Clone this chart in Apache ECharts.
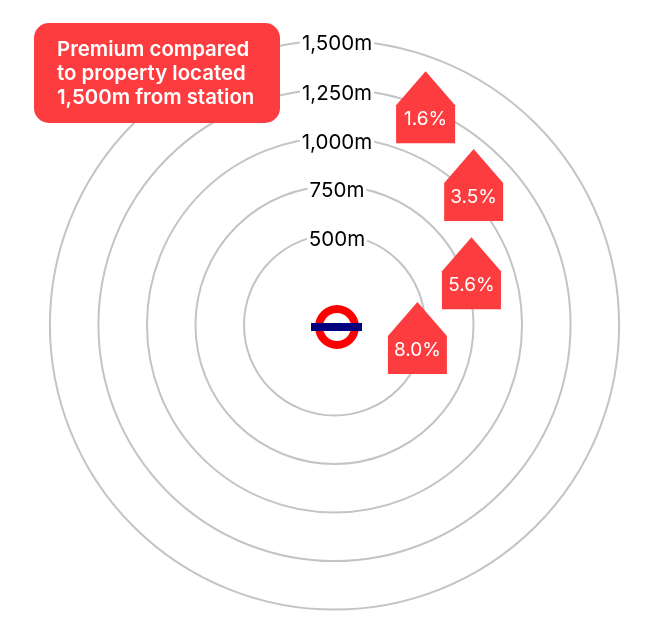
<!DOCTYPE html>
<html>
<head>
<meta charset="utf-8">
<title>Premium by distance from station</title>
<style>
html, body { margin: 0; padding: 0; background: #fff; }
#main { width: 670px; height: 635px; }
</style>
<script src="https://cdn.jsdelivr.net/npm/echarts@6/dist/echarts.min.js"></script>
</head>
<body>
<div id="main"></div>
<script>
var ringDistances = [500, 750, 1000, 1250, 1500];
var ringLabels = ['500m', '750m', '1,000m', '1,250m', '1,500m'];
var premiumLabels = ['1.6%', '3.5%', '5.6%', '8.0%'];
var houseDistances = [1250, 1000, 750, 500];
var houseAngles = [22.7, 44.8, 69.2, 98.9];
var calloutLines = ['Premium compared', 'to property located', '1,500m from station'];

var red = '#FC3C3F';
var font = 'Inter, "Noto Sans", sans-serif';

// houses sit a little off their ring in the original
var houseNudge = [[0, 0], [7, -7], [7, -2.5], [-6.5, -1]];
var ringLabelNudge = [[2.5, 5], [2.5, 5], [2.5, 5], [2.5, 5], [2.5, 3]];

var houseData = premiumLabels.map(function(label, i) {
	return {
		name: label,
		value: [houseDistances[i], houseAngles[i]],
		symbolOffset: houseNudge[i]
	};
});

var ringLabelData = ringLabels.map(function(label, i) {
	return {
		name: label,
		value: [ringDistances[i], 0],
		label: { offset: ringLabelNudge[i] }
	};
});

var option = {
	animation: false,
	backgroundColor: '#fff',
	polar: {
		center: [334.5, 325],
		radius: [90.5, 284.6]
	},
	angleAxis: {
		type: 'value',
		min: 0,
		max: 360,
		startAngle: 90,
		clockwise: true,
		axisLine: { show: false },
		axisTick: { show: false },
		axisLabel: { show: false },
		splitLine: { show: false }
	},
	radiusAxis: {
		type: 'value',
		min: 500,
		max: 1500,
		interval: 250,
		axisLine: { show: false },
		axisTick: { show: false },
		axisLabel: { show: false },
		splitLine: {
			show: true,
			lineStyle: { color: '#C4C4C4', width: 2 }
		}
	},
	series: [{
		name: 'Distance',
		type: 'scatter',
		coordinateSystem: 'polar',
		symbolSize: 1,
		itemStyle: { color: 'transparent', opacity: 1 },
		silent: true,
		z: 3,
		label: {
			show: true,
			position: 'inside',
			color: '#000',
			opacity: 1,
			fontFamily: font,
			fontSize: 20.5,
			backgroundColor: '#fff',
			padding: [2, 2],
			formatter: '{b}'
		},
		data: ringLabelData
	}, {
		name: 'Premium',
		type: 'scatter',
		coordinateSystem: 'polar',
		symbol: 'path://M0 34 L29.5 0 L59 34 L59 72 L0 72 Z',
		symbolSize: [59, 72],
		symbolKeepAspect: false,
		itemStyle: { color: red, opacity: 1 },
		z: 5,
		label: {
			show: true,
			position: 'inside',
			offset: [0, 12],
			color: '#fff',
			opacity: 1,
			fontFamily: font,
			fontSize: 19,
			formatter: '{b}'
		},
		data: houseData
	}],
	graphic: [{
		// station roundel
		type: 'ring',
		z: 10,
		shape: { cx: 337, cy: 327, r: 22, r0: 14 },
		style: { fill: '#FF0000' }
	}, {
		type: 'rect',
		z: 11,
		shape: { x: 311, y: 323, width: 51, height: 8 },
		style: { fill: '#00007F' }
	}, {
		// callout
		type: 'rect',
		z: 12,
		shape: { x: 34, y: 23, width: 246, height: 100, r: 15 },
		style: { fill: red }
	}, {
		type: 'text',
		z: 13,
		x: 57,
		y: 38,
		style: {
			text: calloutLines.join('\n'),
			fill: '#fff',
			fontFamily: font,
			fontSize: 20.4,
			fontWeight: 600,
			lineHeight: 24,
			verticalAlign: 'top'
		}
	}]
};

var myChart = echarts.init(document.getElementById('main'));
myChart.setOption(option);
</script>
</body>
</html>
